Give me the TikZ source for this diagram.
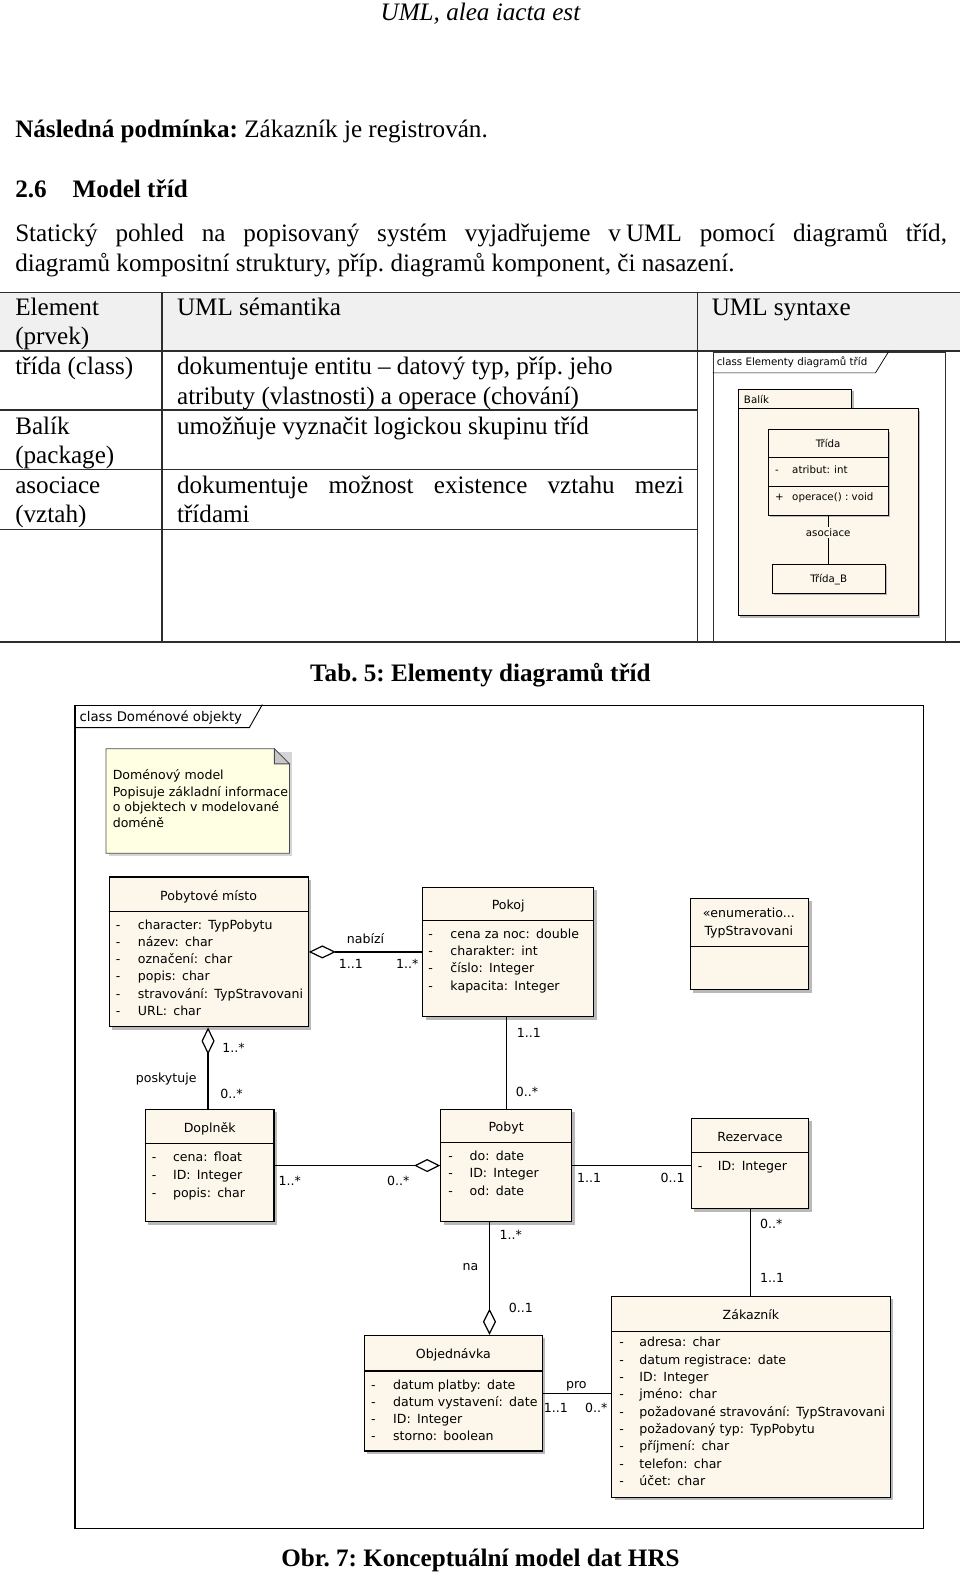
\documentclass[tikz,border=0pt]{standalone}
\usepackage{fontspec}
\setmainfont{Liberation Serif}
\newfontfamily\umlfont{DejaVu Sans}
\usetikzlibrary{arrows.meta,shadows,calc}
\definecolor{umlfill}{RGB}{252,247,234}
\definecolor{notefill}{RGB}{255,255,228}
\definecolor{hdrfill}{RGB}{240,240,240}
\definecolor{shadowc}{RGB}{185,185,185}
\definecolor{tline}{RGB}{45,45,45}
\newcommand\colsp{\hspace{0.5em}}
\newcommand\umlclass[7]{%
  \node[cls, minimum width=#4pt, minimum height=#5pt] (#1) at (#2,#3) {};
  \draw[cline] ($(#1.north west)+(0,#6)$) -- ($(#1.north east)+(0,#6)$);
  \node[utc] (#1-t) at ($(#1.north)+(0,#6/2+6)$) {#7};}
\begin{document}
\frenchspacing
\begin{tikzpicture}[x=1pt,y=-1pt,
  body/.style={font=\fontsize{25}{30}\selectfont, inner sep=0pt, anchor=base west},
  bodyb/.style={body, font=\bfseries\fontsize{25}{30}\selectfont},
  cls/.style={draw=black, line width=1.2pt, fill=umlfill, anchor=north west, inner sep=0pt,
     general shadow={fill=shadowc, shadow xshift=3pt, shadow yshift=-3pt}},
  cline/.style={line width=1.2pt},
  ut/.style={font=\umlfont\fontsize{12.5}{14}\selectfont, inner sep=0pt, anchor=base west},
  utc/.style={ut, anchor=base},
  st/.style={font=\umlfont\fontsize{10.2}{12}\selectfont, inner sep=0pt, anchor=base west},
  stc/.style={st, anchor=base},
  scls/.style={draw=black, line width=0.9pt, fill=umlfill, anchor=north west, inner sep=0pt,
     general shadow={fill=shadowc, shadow xshift=2pt, shadow yshift=-2pt}},
  conn/.style={line width=1.2pt},
  aggs/.style={{Diamond[open,fill=white,length=27pt,width=13pt]}-},
  agge/.style={-{Diamond[open,fill=white,length=26pt,width=13pt]}},
  tl/.style={line width=1.6pt, draw=tline}]
\useasboundingbox (0,0) rectangle (955,1568);
% ---------- page text ----------
\node[font=\itshape\fontsize{25}{28}\selectfont, inner sep=0pt, anchor=base] (hdr) at (478,20) {UML, alea iacta est};
\node[body] (post) at (15,137) {\textbf{Následná podmínka:} Zákazník je registrován.};
\node[bodyb] (secn) at (15,196) {2.6};
\node[bodyb] (sect) at (72,196) {Model tříd};
\node[body] (par1) at (15,240) {\makebox[927pt][s]{Statický pohled na popisovaný systém vyjadřujeme v\kern0.2em UML pomocí diagramů tříd,}};
\node[body] (par2) at (15,270) {diagramů kompositní struktury, příp. diagramů komponent, či nasazení.};
% ---------- table ----------
\fill[hdrfill] (0,291) rectangle (955,349);
\draw[tl] (0,291) -- (955,291);
\draw[tl] (0,349) -- (955,349);
\draw[tl] (0,408) -- (694,408);
\draw[tl] (0,467) -- (694,467);
\draw[tl] (0,527) -- (694,527);
\draw[tl] (0,639) -- (955,639);
\draw[tl] (161,291) -- (161,639);
\draw[tl] (694,291) -- (694,639);
\node[body] (h1a) at (15,314) {Element};
\node[body] (h1b) at (15,343) {(prvek)};
\node[body] (h2) at (176,314) {UML sémantika};
\node[body] (h3) at (708,314) {UML syntaxe};
\node[body] (r1a) at (15,373) {třída (class)};
\node[body] (r1b) at (176,373) {dokumentuje entitu – datový typ, příp. jeho};
\node[body] (r1c) at (176,402) {atributy (vlastnosti) a operace (chování)};
\node[body] (r2a) at (15,432) {Balík};
\node[body] (r2b) at (15,461) {(package)};
\node[body] (r2c) at (176,432) {umožňuje vyznačit logickou skupinu tříd};
\node[body] (r3a) at (15,491) {asociace};
\node[body] (r3b) at (15,520) {(vztah)};
\node[body] (r3c) at (176,491) {\makebox[504pt][s]{dokumentuje možnost existence vztahu mezi}};
\node[body] (r3d) at (176,520) {třídami};
% small diagram in table
\node[draw=black!80, line width=0.9pt, anchor=north west, inner sep=0pt, minimum width=231pt, minimum height=288pt, fill=white] (sframe) at (709,350) {};
\draw[line width=0.7pt] ($(sframe.north west)+(0,21)$) -- ($(sframe.north west)+(162,21)$) -- ($(sframe.north west)+(175,0)$);
\node[st] (stab) at (713,364) {class Elementy diagramů tříd};
\node[scls, minimum width=113pt, minimum height=19pt] (pkgtab) at (734,387) {};
\node[scls, minimum width=179pt, minimum height=206pt] (pkg) at (734,406) {};
\node[st] (pkgl) at (740,401) {Balík};
\node[scls, minimum width=119pt, minimum height=85pt] (tA) at (764,427) {};
\draw[line width=0.9pt] ($(tA.north west)+(0,28)$) -- ($(tA.north east)+(0,28)$);
\draw[line width=0.9pt] ($(tA.north west)+(0,56.5)$) -- ($(tA.north east)+(0,56.5)$);
\node[stc] (tAt) at ($(tA.north)+(0,18)$) {Třída};
\node[st] (tAd) at (771,471) {-};
\node[st] (tAa) at (788,471) {atribut:\hspace{0.4em}int};
\node[st] (tAp) at (771,498) {+};
\node[st] (tAo) at (788,498) {operace() : void};
\node[scls, minimum width=112pt, minimum height=29pt] (tB) at (768,561) {};
\node[stc] (tBt) at ($(tB.north)+(0,19)$) {Třída\_B};
\draw[line width=0.9pt] (tA.south -| tB.north) -- (tB.north);
\node[stc, fill=umlfill, inner sep=1.5pt] (asl) at (824,534) {asociace};
\node[bodyb, anchor=base] (tcap) at (478,678) {Tab. 5: Elementy diagramů tříd};
% ---------- main diagram ----------
\node[draw=black, line width=1.4pt, anchor=north west, inner sep=0pt, minimum width=844pt, minimum height=819pt] (frame) at (74,701) {};
\draw[line width=0.9pt] ($(frame.north west)+(0,23)$) -- ($(frame.north west)+(174,23)$) -- ($(frame.north west)+(187,0)$);
\node[ut, font=\umlfont\fontsize{13.2}{15}\selectfont] (ftab) at (79,718) {class Doménové objekty};
% note
\fill[shadowc!60] (108,748) -- (291,748) -- (291,852) -- (108,852) -- cycle;
\draw[line width=0.8pt, draw=black!70, fill=notefill] (105.5,745) -- (273,745) -- (288,760) -- (288,849) -- (105.5,849) -- cycle;
\draw[line width=0.8pt, draw=black!70, fill=black!22] (273,745) -- (273,760) -- (288,760) -- cycle;
\node[ut] (n1) at (112,776) {Doménový model};
\node[ut] (n2) at (112,792) {Popisuje základní informace};
\node[ut] (n3) at (112,807) {o objektech v modelované};
\node[ut] (n4) at (112,823) {doméně};
% classes
\umlclass{pm}{108}{872}{198}{149}{35}{Pobytové místo}
\foreach \t [count=\i] in {character:\colsp TypPobytu, název:\colsp char, označení:\colsp char, popis:\colsp char, stravování:\colsp TypStravovani, URL:\colsp char}
  {\node[ut] (pm-d\i) at (115,{921+17*(\i-1)+4}) {-};
   \node[ut] (pm-a\i) at (137,{921+17*(\i-1)+4}) {\t};}
\umlclass{pokoj}{420}{882}{170}{129}{34}{Pokoj}
\foreach \t [count=\i] in {cena za noc:\colsp double, charakter:\colsp int, číslo:\colsp Integer, kapacita:\colsp Integer}
  {\node[ut] (po-d\i) at (426,{930+17*(\i-1)+4}) {-};
   \node[ut] (po-a\i) at (448,{930+17*(\i-1)+4}) {\t};}
\umlclass{enum}{686}{893}{118}{91}{49}{}
\node[utc] (en1) at (745,913) {«enumeratio...};
\node[utc] (en2) at (745,931) {TypStravovani};
\umlclass{dop}{144}{1103}{128}{112}{35}{Doplněk}
\foreach \t [count=\i] in {cena:\colsp float, ID:\colsp Integer, popis:\colsp char}
  {\node[ut] (do-d\i) at (151,{1152+17.5*(\i-1)+4}) {-};
   \node[ut] (do-a\i) at (172,{1152+17.5*(\i-1)+4}) {\t};}
\umlclass{pobyt}{438}{1103}{130}{112}{34}{Pobyt}
\foreach \t [count=\i] in {do:\colsp date, ID:\colsp Integer, od:\colsp date}
  {\node[ut] (pb-d\i) at (446,{1151+17*(\i-1)+4}) {-};
   \node[ut] (pb-a\i) at (467,{1151+17*(\i-1)+4}) {\t};}
\umlclass{rez}{687}{1112}{117}{90}{35}{Rezervace}
\node[ut] (rz-d1) at (694,1165) {-};
\node[ut] (rz-a1) at (714,1165) {ID:\colsp Integer};
\umlclass{obj}{362}{1328}{177}{115}{36}{Objednávka}
\foreach \t [count=\i] in {datum platby:\colsp date, datum vystavení:\colsp date, ID:\colsp Integer, storno:\colsp boolean}
  {\node[ut] (ob-d\i) at (369,{1378+17*(\i-1)+4}) {-};
   \node[ut] (ob-a\i) at (391,{1378+17*(\i-1)+4}) {\t};}
\umlclass{zak}{608}{1289}{277}{200}{36}{Zákazník}
\foreach \t [count=\i] in {adresa:\colsp char, datum registrace:\colsp date, ID:\colsp Integer, jméno:\colsp char, požadované stravování:\colsp TypStravovani, požadovaný typ:\colsp TypPobytu, příjmení:\colsp char, telefon:\colsp char, účet:\colsp char}
  {\node[ut] (za-d\i) at (616,{1336+17.25*(\i-1)+4}) {-};
   \node[ut] (za-a\i) at (636,{1336+17.25*(\i-1)+4}) {\t};}
% connectors
\draw[conn, aggs] (pm.east) -- (pm.east -| pokoj.west);
\draw[conn] (pokoj.south -| 504,0) -- (pobyt.north -| 504,0);
\draw[conn, aggs] (pm.south -| 207,0) -- (dop.north -| 207,0);
\draw[conn, agge] (dop.east) -- (dop.east -| pobyt.west);
\draw[conn] (pobyt.east) -- (pobyt.east -| rez.west);
\draw[conn] (rez.south -| 747,0) -- (zak.north -| 747,0);
\draw[conn, agge] (pobyt.south -| 487,0) -- (obj.north -| 487,0);
\draw[conn] (obj.east) -- (obj.east -| zak.west);
% labels
\node[ut] (l1) at (345,939) {nabízí};
\node[ut] (l2) at (337,964) {1..1};
\node[ut] (l3) at (394,964) {1..*};
\node[ut] (l4) at (514,1032) {1..1};
\node[ut] (l5) at (513,1091) {0..*};
\node[ut] (l6) at (221,1047) {1..*};
\node[ut] (l7) at (135,1077) {poskytuje};
\node[ut] (l8) at (219,1093) {0..*};
\node[ut] (l9) at (277,1179) {1..*};
\node[ut] (l10) at (385,1179) {0..*};
\node[ut] (l11) at (574,1176) {1..1};
\node[ut] (l12) at (657,1176) {0..1};
\node[ut] (l13) at (756,1222) {0..*};
\node[ut] (l14) at (756,1276) {1..1};
\node[ut] (l15) at (497,1233) {1..*};
\node[ut] (l16) at (460,1264) {na};
\node[ut] (l17) at (506,1306) {0..1};
\node[ut] (l18) at (563,1381) {pro};
\node[ut] (l19) at (541,1405) {1..1};
\node[ut] (l20) at (582,1405) {0..*};
\node[bodyb, anchor=base] (fcap) at (478,1559) {Obr. 7: Konceptuální model dat HRS};
\end{tikzpicture}
\end{document}
